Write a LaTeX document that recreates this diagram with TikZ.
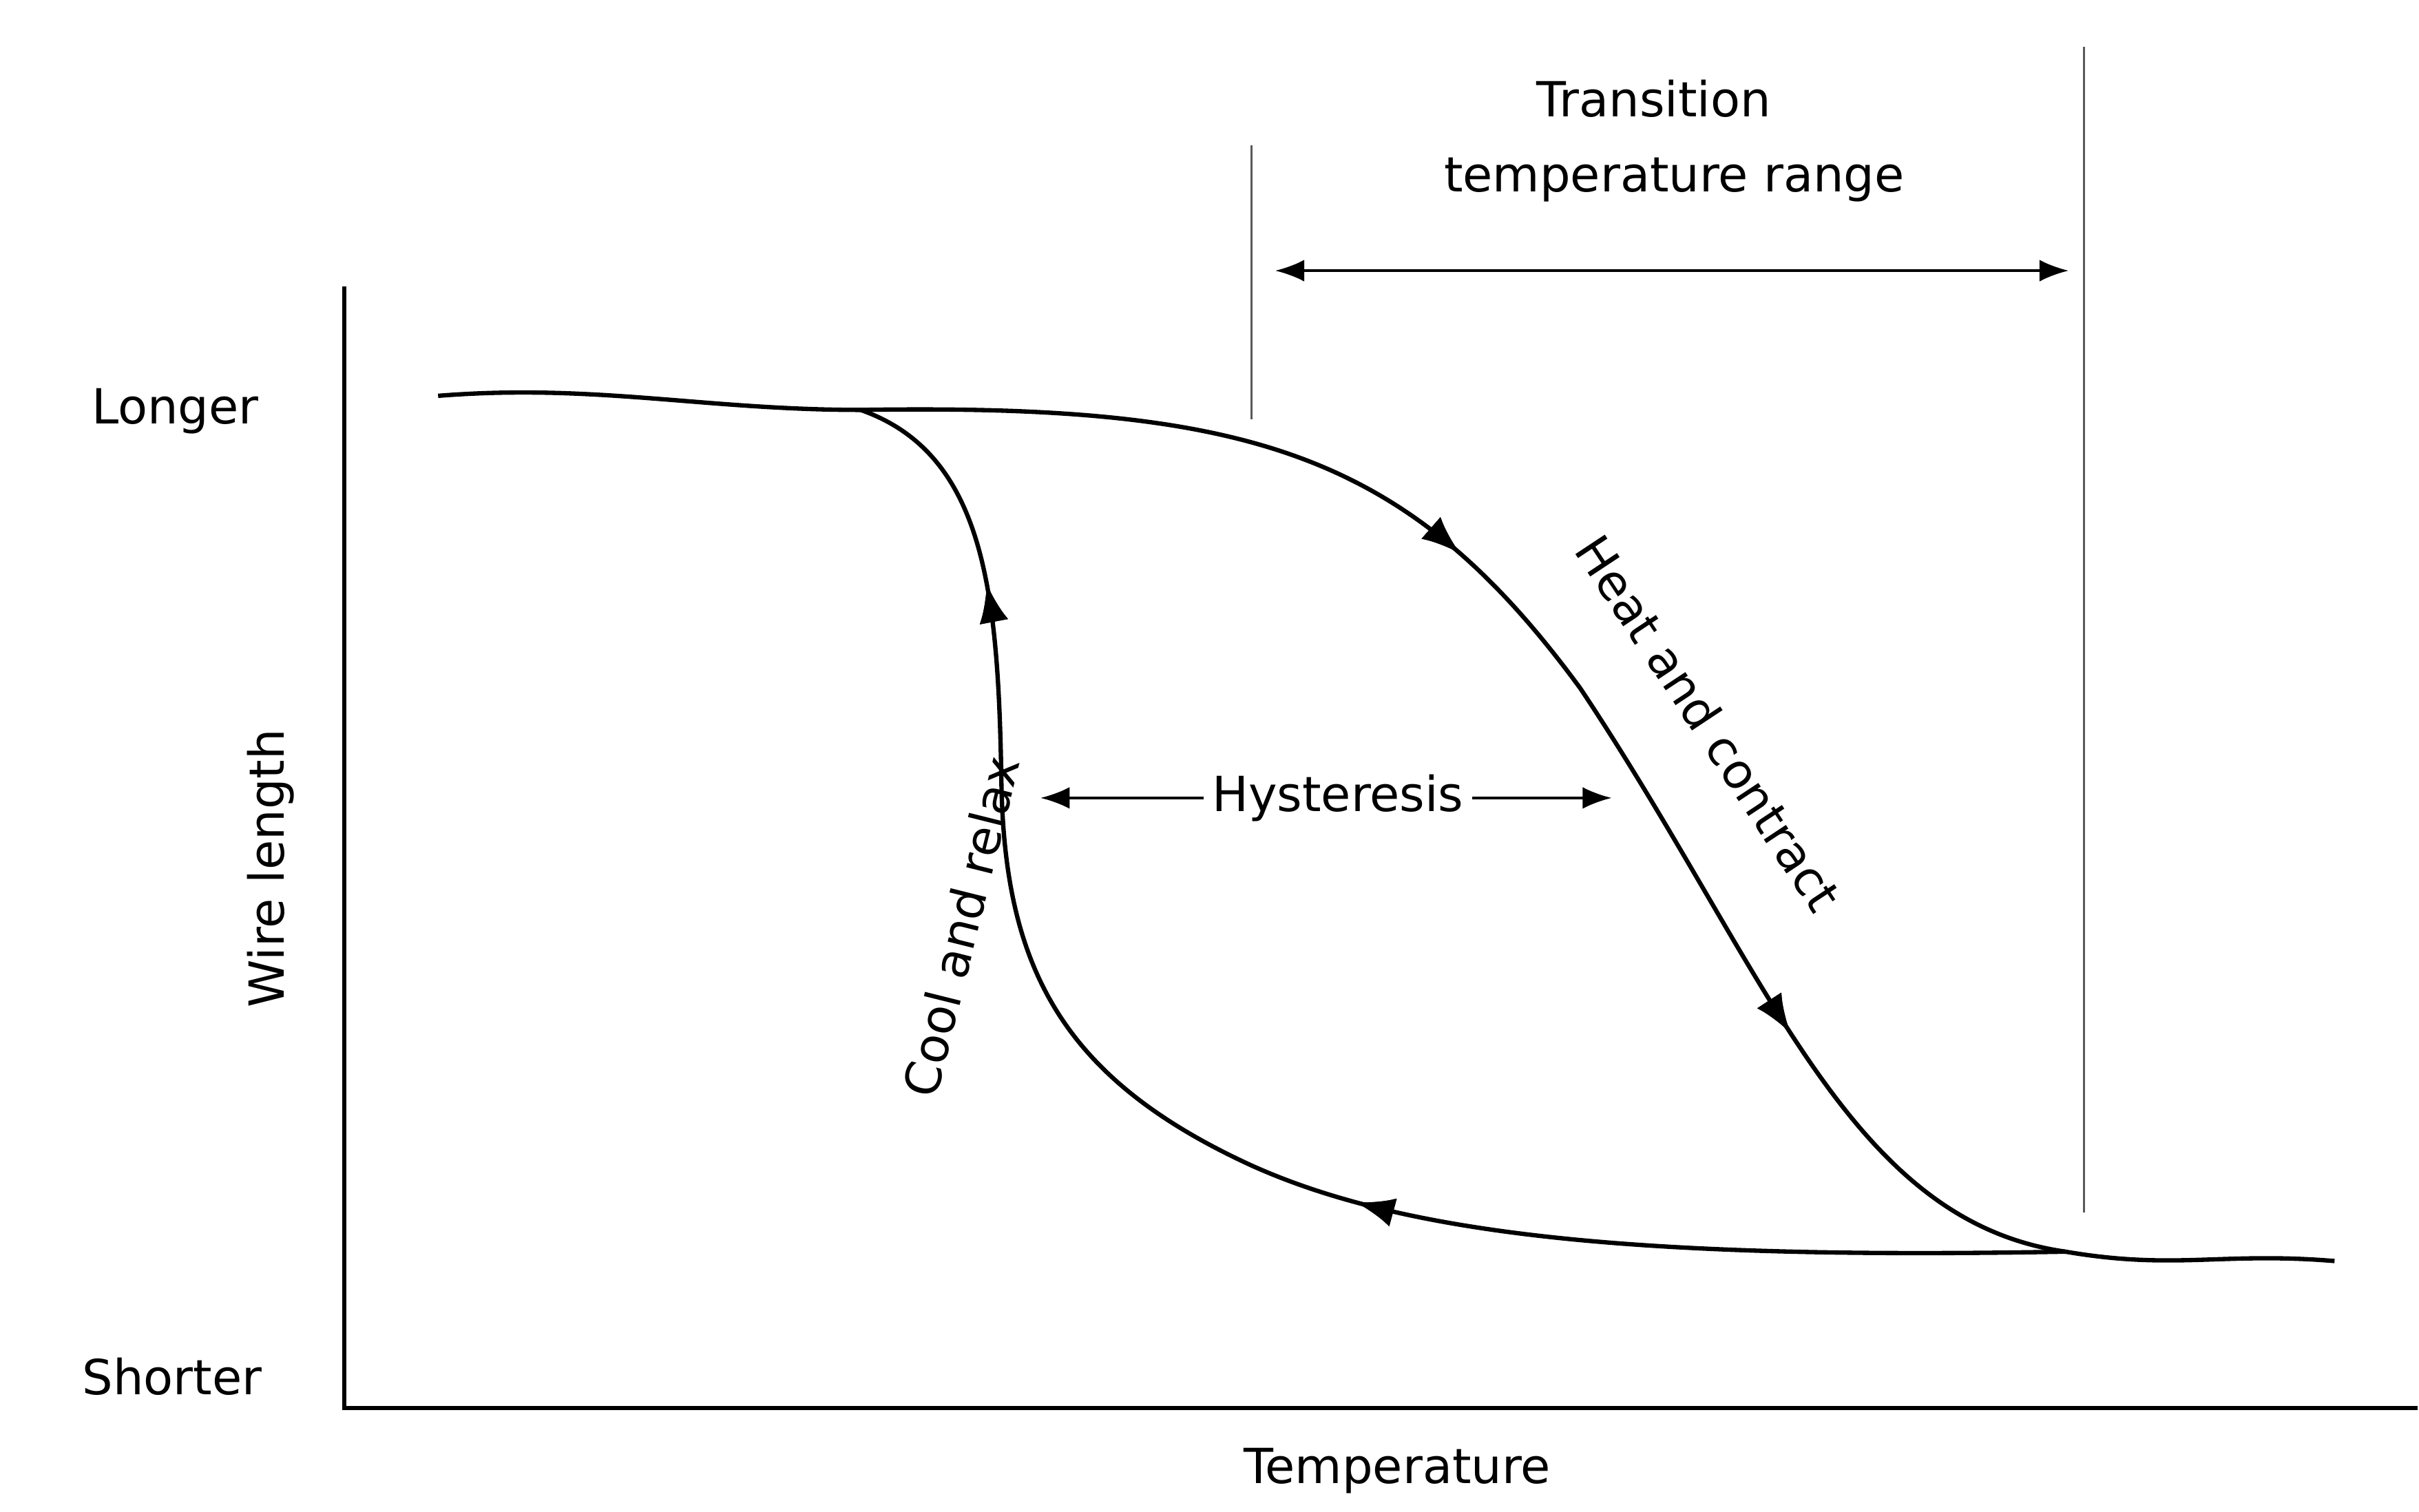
\documentclass[tikz,border=0pt]{standalone}
\usepackage{fontspec}
\setmainfont{DejaVu Sans}
\usetikzlibrary{decorations.markings,arrows.meta}
\begin{document}
\begin{tikzpicture}[x=0.02272cm,y=-0.02272cm]
\tikzstyle{every node}+=[font=\fontsize{20}{24}\selectfont]
\tikzstyle{curve}=[line width=1.8pt]
\tikzstyle{mark}=[postaction={decorate},decoration={markings,mark=at position #1 with {\arrow{Latex[length=16pt,width=12pt]}}}]
\useasboundingbox (0,0) rectangle (1546,966);
% axes
\draw [line width=1.5pt] (220,183) -- (220,900) -- (1545,900);
\node (longer) at (112,263) {Longer};
\node (shorter) at (110,880) {Shorter};
\node [rotate=90] (wire) at (173,555) {Wire length};
\node (temp) at (893,940) {Temperature};
% transition range
\coordinate (t1a) at (800,93);
\coordinate (t1b) at (800,268);
\coordinate (t2a) at (1332,30);
\coordinate (t2b) at (1332,775);
\draw [gray!70!black,line width=0.8pt] (t1a) -- (t1b);
\draw [gray!70!black,line width=0.8pt] (t2a) -- (t2b);
\coordinate (r1) at (815,173);
\coordinate (r2) at (1322,173);
\draw [line width=1pt,{Latex[length=12pt,width=9pt]}-{Latex[length=12pt,width=9pt]}] (r1) -- (r2);
\node (trans) at (1057,63) {Transition};
\node (range) at (1070,115) {temperature range};
% heating
\coordinate (a) at (280,253);
\coordinate (b) at (550,262);
\coordinate (c) at (1320,800);
\coordinate (d) at (1492,806);
\draw [curve,mark=0.4,mark=0.77] (b) .. controls (800,258) and (900,290) .. (1010,440)
  .. controls (1130,620) and (1180,780) .. (c);
\draw [curve] (a) .. controls (380,245) and (450,262) .. (b);
\draw [curve] (c) .. controls (1390,812) and (1420,800) .. (d);
% cooling
\draw [curve,mark=0.41,mark=0.87] (c) .. controls (1050,805) and (900,790) .. (800,745)
  .. controls (680,690) and (642,620) .. (640,500)
  .. controls (638,380) and (630,290) .. (b);
% labels
\node [rotate=-56.5] (heat) at (1092,462) {Heat and contract};
\node [rotate=76] (cool) at (614,592) {Cool and relax};
\node (hyst) at (855,510) {Hysteresis};
\coordinate (h1) at (665,510);
\coordinate (h2) at (1030,510);
\draw [line width=1pt,-{Latex[length=12pt,width=9pt]}] (hyst.west) -- (h1);
\draw [line width=1pt,-{Latex[length=12pt,width=9pt]}] (hyst.east) -- (h2);
\end{tikzpicture}
\end{document}
